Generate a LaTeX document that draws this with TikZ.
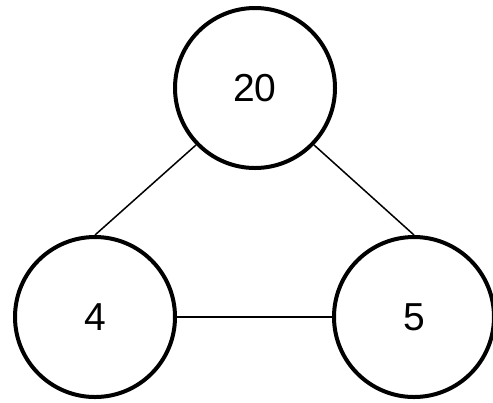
\documentclass[tikz,border=0pt]{standalone}
\usepackage{fontspec}
\setmainfont{Liberation Sans}
\begin{document}
\begin{tikzpicture}[x=1bp,y=-1bp,
  numcircle/.style={circle,draw=black,line width=4bp,minimum size=160bp,inner sep=0pt,
    font=\fontsize{39bp}{39bp}\selectfont},
  conn/.style={draw=black,line width=1.5bp}]
\useasboundingbox (0,0) rectangle (493,402);
\node[numcircle] (t) at (255,88) {20};
\node[numcircle] (l) at (95,317) {4};
\node[numcircle] (r) at (414,317) {5};
\draw[conn] (t.224) -- (l.north);
\draw[conn] (t.316) -- (r.north);
\draw[conn] (l.east) -- (r.west);
\end{tikzpicture}
\end{document}
